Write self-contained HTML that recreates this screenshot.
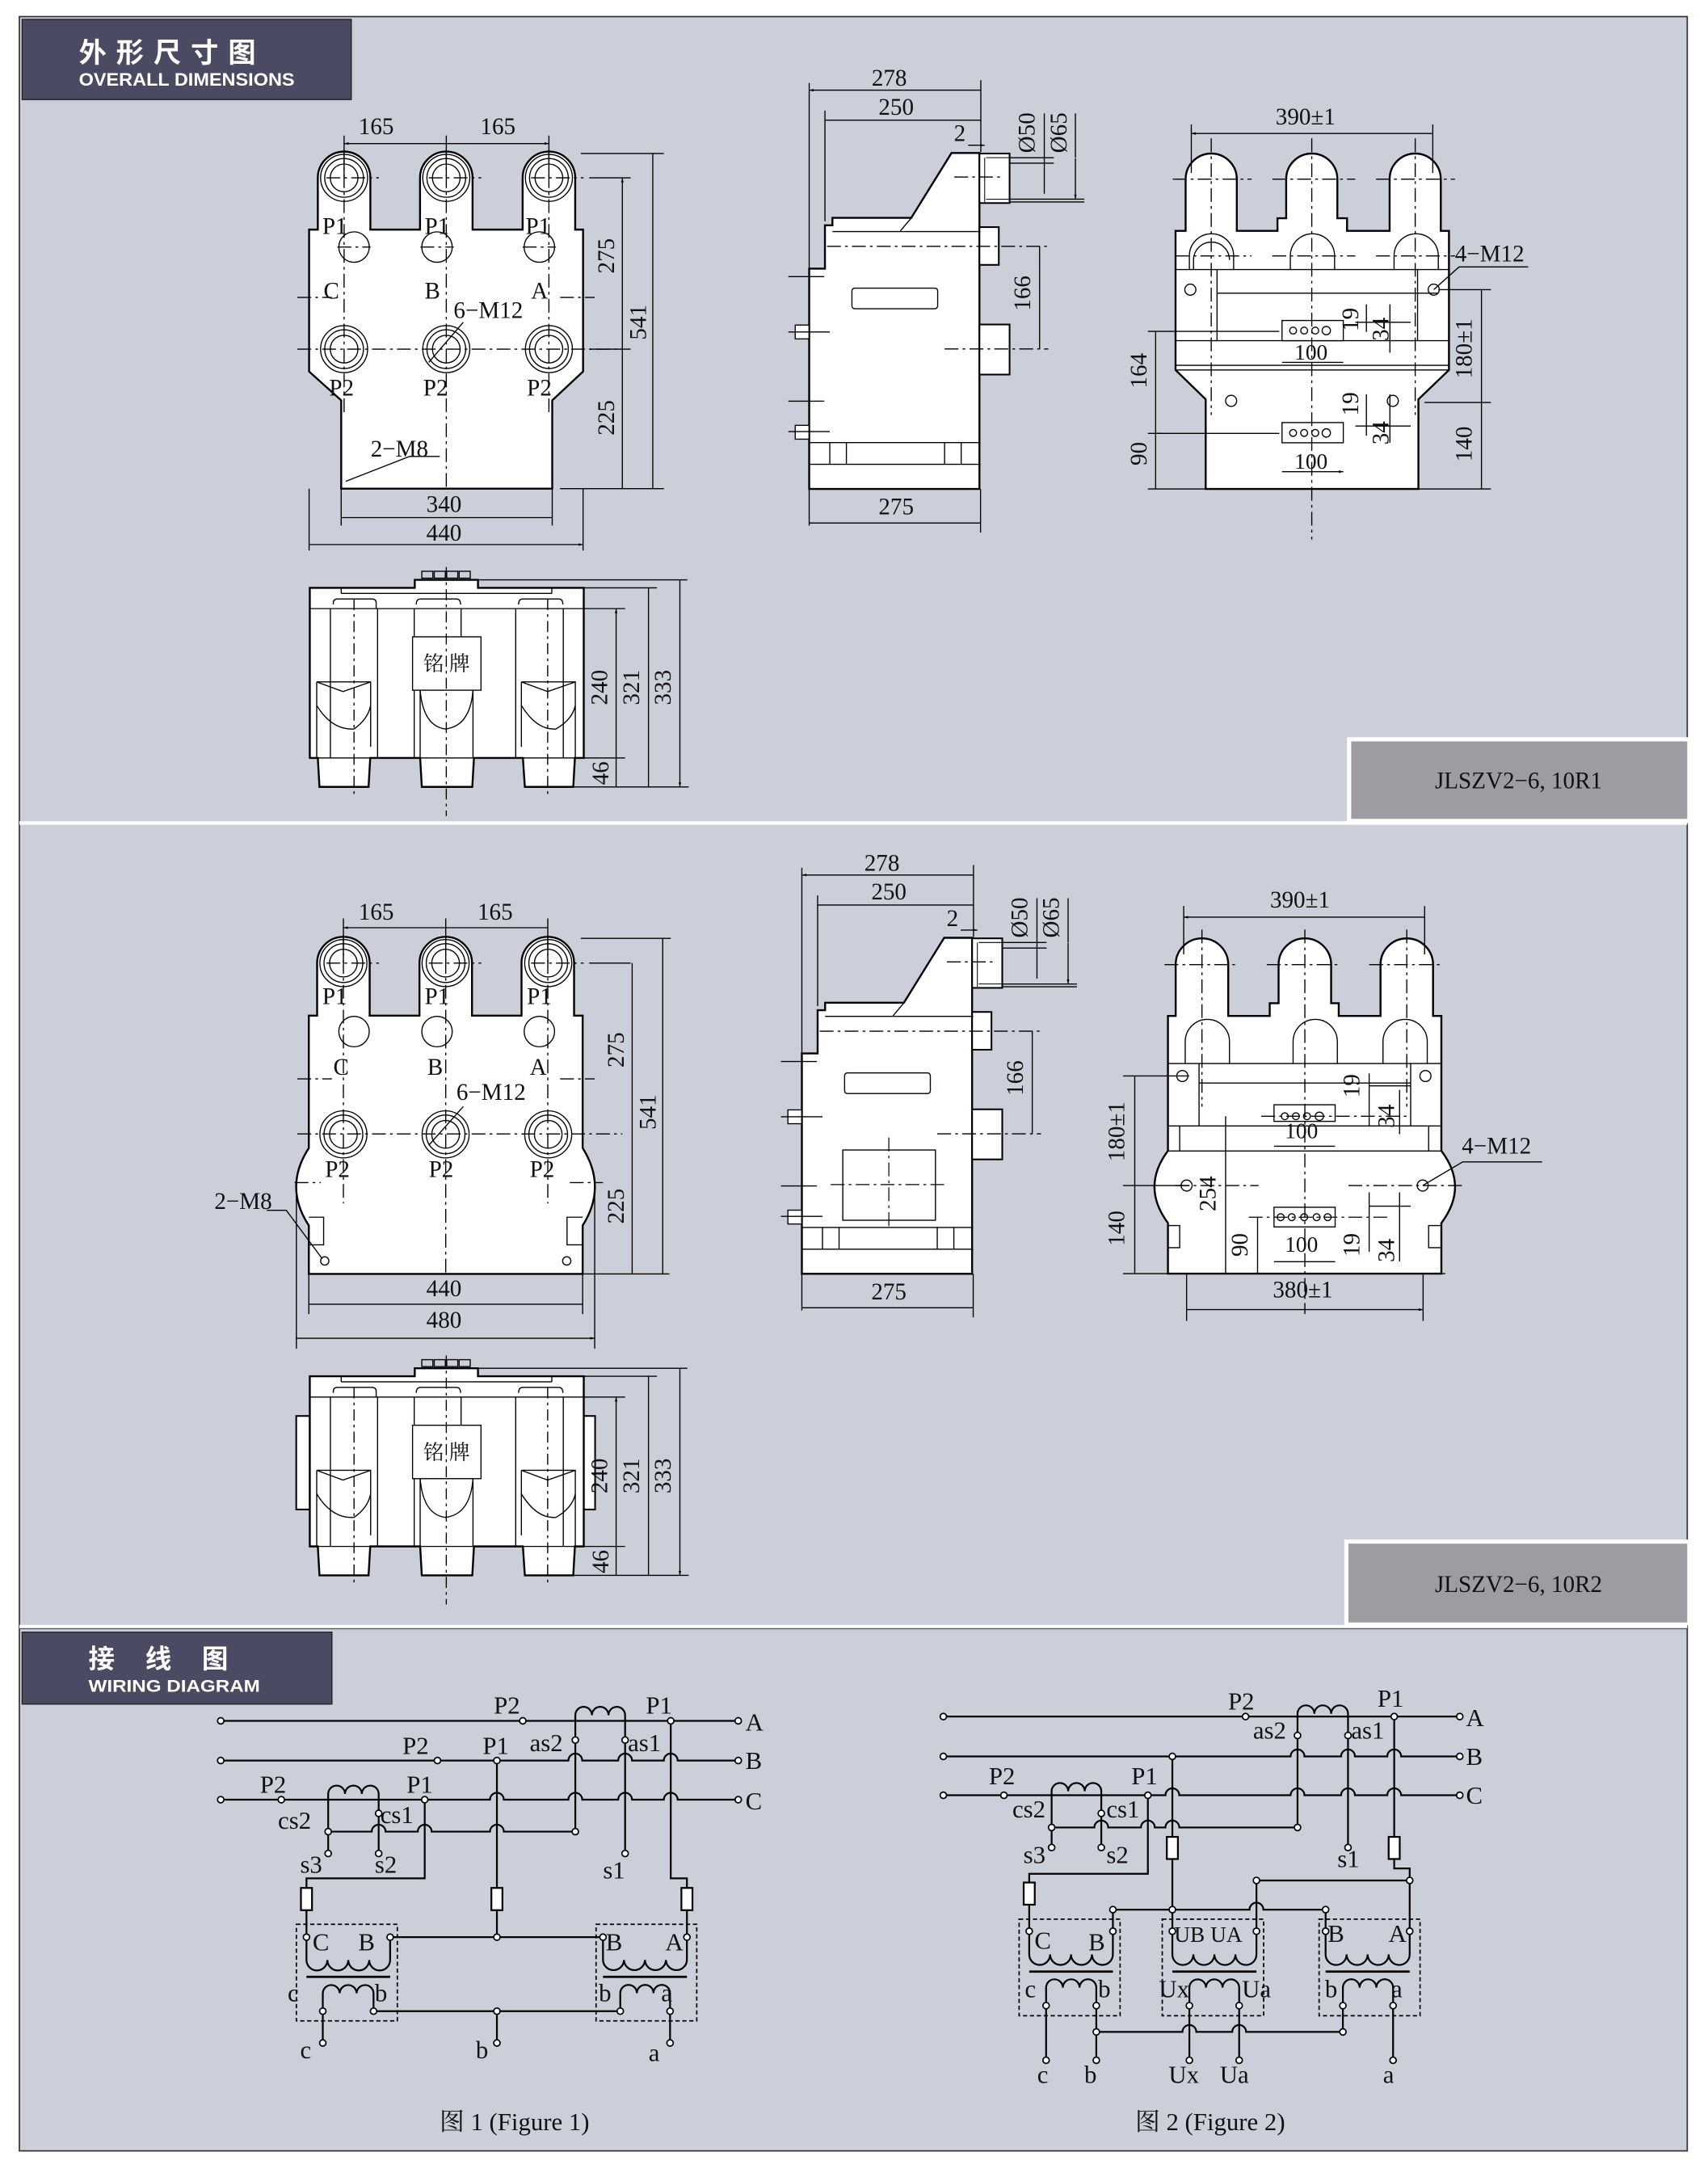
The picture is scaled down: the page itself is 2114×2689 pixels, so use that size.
<!DOCTYPE html>
<html><head><meta charset="utf-8"><style>
html,body{margin:0;padding:0;background:#fff;}
svg{display:block;}
text{font-family:"Liberation Serif","Noto Serif CJK SC",serif;fill:#111;}
</style></head><body>
<svg width="2114" height="2689" viewBox="0 0 1235 1571" preserveAspectRatio="none" xmlns="http://www.w3.org/2000/svg">
<defs>
<marker id="ar" viewBox="0 0 10 10" refX="10" refY="5" markerWidth="6" markerHeight="4" orient="auto-start-reverse"><path d="M0,2 L10,5 L0,8 Z" fill="#000"/></marker>
<g id="tr"><circle r="2.3" fill="#fff" stroke="#000" stroke-width="1"/></g>
</defs>
<rect x="0" y="0" width="1235" height="1571" fill="#fff"/>
<rect x="14" y="12" width="1206" height="1543" fill="#cbcfda" stroke="#333" stroke-width="1"/>
<line x1="14" y1="595" x2="1220" y2="595" stroke="#fff" stroke-width="2.5"/>
<line x1="14" y1="1176" x2="1220" y2="1176" stroke="#fff" stroke-width="2.5"/>
<line x1="14" y1="1177.5" x2="1220" y2="1177.5" stroke="#555" stroke-width="0.8"/>

<!-- titles -->
<rect x="16" y="14" width="238" height="58" fill="#4a4a62" stroke="#222" stroke-width="0.8"/>
<text x="57" y="45" style="font-family:'Liberation Sans','Noto Sans CJK SC',sans-serif;font-weight:bold;fill:#fff;font-size:20px;letter-spacing:7px">外形尺寸图</text>
<text x="57" y="62" style="font-family:'Liberation Sans',sans-serif;font-weight:bold;fill:#fff;font-size:13px" textLength="156" lengthAdjust="spacingAndGlyphs">OVERALL DIMENSIONS</text>
<rect x="16" y="1180" width="224" height="52" fill="#4a4a62" stroke="#222" stroke-width="0.8"/>
<text x="64" y="1206" style="font-family:'Liberation Sans','Noto Sans CJK SC',sans-serif;font-weight:bold;fill:#fff;font-size:19px;letter-spacing:22px">接线图</text>
<text x="64" y="1223" style="font-family:'Liberation Sans',sans-serif;font-weight:bold;fill:#fff;font-size:12.5px" textLength="124" lengthAdjust="spacingAndGlyphs">WIRING DIAGRAM</text>

<rect x="974" y="533" width="247" height="62" fill="#fff"/>
<rect x="977" y="536" width="243" height="56" fill="#9c9da3"/>
<text x="1098" y="570" font-size="17" text-anchor="middle">JLSZV2−6, 10R1</text>
<rect x="972" y="1113" width="249" height="62" fill="#fff"/>
<rect x="975" y="1116" width="245" height="57" fill="#9c9da3"/>
<text x="1098" y="1151" font-size="17" text-anchor="middle">JLSZV2−6, 10R2</text>

<!-- ============ FRONT VIEW 1 ============ -->
<g stroke="#000" fill="none" stroke-width="0.8">
<path d="M223.5,166 H229.8 V128.6 A19,19 0 0 1 267.8,128.6 V166 H303.7 V128.6 A19,19 0 0 1 341.7,128.6 V166 H377.9 V128.6 A19,19 0 0 1 415.9,128.6 V166 H421.6 V268.6 L399.3,289.4 V353.3 H246.7 V289.4 L223.5,268.6 Z" fill="#fff" stroke-width="1.4"/>
<g id="cir3"><circle cx="248.8" cy="128.6" r="17"/><circle cx="248.8" cy="128.6" r="14"/><circle cx="248.8" cy="128.6" r="10"/>
<circle cx="322.7" cy="128.6" r="17"/><circle cx="322.7" cy="128.6" r="14"/><circle cx="322.7" cy="128.6" r="10"/>
<circle cx="396.9" cy="128.6" r="17"/><circle cx="396.9" cy="128.6" r="14"/><circle cx="396.9" cy="128.6" r="10"/></g>
<use href="#cir3" y="123.8"/>
<circle cx="256" cy="178.6" r="11"/><circle cx="316" cy="178.6" r="11"/><circle cx="390" cy="178.6" r="11"/>
<path d="M236,128.6 H274 M310,128.6 H348 M384,128.6 H422 M248.8,108 V300 M322.7,108 V353 M396.9,108 V300 M215,252.4 H450 M244,178.6 H268 M304,178.6 H328 M378,178.6 H402 M215,215 H240 M405,215 H430" stroke-dasharray="10,3,2,3"/>
<path d="M223.5,353.3 V398 M421.6,353.3 V398 M246.7,353.3 V380 M399.3,353.3 V380 M426,128.6 H456 M426,252.4 H456 M405,353.3 H480 M420,111 H480"/>
<path d="M248.8,103.8 H322.7 M322.7,103.8 H396.9" marker-start="url(#ar)" marker-end="url(#ar)"/>
<path d="M248.8,98 V128 M322.7,98 V128 M396.9,98 V128"/>
<path d="M450,128.6 V252.4 M450,252.4 V353.3 M472,111 V353.3 M246.7,374.2 H399.3 M223.5,393.7 H421.6" marker-start="url(#ar)" marker-end="url(#ar)"/>
<path d="M335,233 L310,262 M296,330 H318 M296,330 L250,348"/>
</g>
<g font-size="17">
<text x="272" y="97" text-anchor="middle">165</text><text x="360" y="97" text-anchor="middle">165</text>
<text x="233" y="169">P1</text><text x="307" y="169">P1</text><text x="380" y="169">P1</text>
<text x="234" y="216">C</text><text x="307" y="216">B</text><text x="384" y="216">A</text>
<text x="328" y="230">6−M12</text>
<text x="238" y="286">P2</text><text x="306" y="286">P2</text><text x="381" y="286">P2</text>
<text x="268" y="330">2−M8</text>
<text x="321" y="370" text-anchor="middle">340</text><text x="321" y="391" text-anchor="middle">440</text>
<text transform="translate(444,185) rotate(-90)" text-anchor="middle">275</text>
<text transform="translate(444,302) rotate(-90)" text-anchor="middle">225</text>
<text transform="translate(467,233) rotate(-90)" text-anchor="middle">541</text>
</g>

<!-- ============ BOTTOM VIEW (1 and 2) ============ -->
<g id="bv" stroke="#000" fill="none" stroke-width="0.8">
<path d="M224,425 H299.9 V419.2 H345.6 V425 H422.1 V548 H415.7 L414.5,568.9 H379.5 L378.1,548 H342.7 L341.5,568.9 H305 L303.8,548 H267.7 L266.5,568.9 H231 L229.8,548 H224 Z" fill="#fff" stroke-width="1.4"/>
<path d="M224,440 H422 M246.7,429 H399 M246.7,425 V429 M399,425 V429 M224,548 H422"/>
<path d="M238.9,440 V548 M273,440 V548 M299.5,440 V548 M333.4,440 V460 M372.9,440 V548 M407.3,440 V548 M342,499 V548 M303.8,499 V548"/>
<path d="M241,437 V436 Q241,433 244,433 H269 Q272,433 272,436 V440 M301,437 Q301,433 304,433 H330 Q333,433 333,437 M375,437 Q375,433 378,433 H404 Q407,433 407,437"/>
<rect x="298.3" y="460.4" width="49.5" height="38.6" fill="#fff"/>
<path d="M229,493 L268,493 L268,540 M229,493 V548 M229,510 Q240,528 256,527 Q266,520 268,510 M229,493 L248,500 L268,493"/>
<path d="M303.8,499 Q306,525 322,527 Q340,525 342,499"/>
<path d="M377,493 L416,493 V548 M377,493 V540 M377,510 Q388,528 402,527 Q414,520 416,510 M377,493 L396,500 L416,493"/>
<path d="M256,433 V575 M322.7,410 V590 M396,433 V575" stroke-dasharray="8,3,2,3"/>
<rect x="305" y="413" width="8" height="5"/><rect x="314" y="413" width="8" height="5"/><rect x="323" y="413" width="8" height="5"/><rect x="332" y="413" width="8" height="5"/>
<path d="M345.6,419.2 H497 M422,425 H475 M422,440 H452 M422,548 H452 M415,568.9 H498"/>
<path d="M445.5,440 V548 M445.5,548 V568.9 M468.9,425 V568.9 M491.6,419.2 V568.9" marker-start="url(#ar)" marker-end="url(#ar)"/>
<text x="306" y="485" font-size="15" stroke="none" fill="#111">铭 牌</text>
<g font-size="17" stroke="none" fill="#111">
<text transform="translate(439,497) rotate(-90)" text-anchor="middle">240</text>
<text transform="translate(462,497) rotate(-90)" text-anchor="middle">321</text>
<text transform="translate(485,497) rotate(-90)" text-anchor="middle">333</text>
<text transform="translate(440,559) rotate(-90)" text-anchor="middle">46</text>
</g>
</g>
<g transform="translate(0,570)">
<rect x="214.2" y="453.7" width="9.8" height="67.6" fill="#fff" stroke="#000" stroke-width="1.2"/>
<rect x="421.6" y="453.7" width="8.7" height="67.6" fill="#fff" stroke="#000" stroke-width="1.2"/>
<use href="#bv"/>
</g>

<!-- ============ SIDE VIEW 1 ============ -->
<g id="sv" stroke="#000" fill="none" stroke-width="0.8">
<path d="M585.1,353.5 V194.2 H596.5 V162.9 H601.9 V157.5 H658.9 L688,110.6 H708.2 V353.5 Z" fill="#fff" stroke-width="1.4"/>
<rect x="708.2" y="111" width="21.8" height="35.8" fill="#fff" stroke-width="1.2"/>
<rect x="708.2" y="164.2" width="14" height="27.3" fill="#fff" stroke-width="1.2"/>
<rect x="708.2" y="234.6" width="21.8" height="36.2" fill="#fff" stroke-width="1.2"/>
<path d="M708,114 V146 M712,114 V146 M713,114 H730 M713,144 H730" stroke-width="0.6"/>
<rect x="616" y="208.3" width="62" height="14.9" rx="2"/>
<path d="M601.9,167.4 H709 M585.1,320 H709 M585.1,335.7 H709 M600,320 V335.7 M612,320 V335.7 M683,320 V335.7 M695,320 V335.7 M651,167 L659,157.5"/>
<rect x="575" y="235" width="10" height="10" fill="#fff"/><rect x="575" y="307.5" width="10" height="10" fill="#fff"/>
<path d="M570,240 H600 M570,312 H600 M570,200 H596 M570,290 H596"/>
<path d="M598,178.1 H758 M683,252.3 H758 M690,128 H725" stroke-dasharray="10,3,2,3"/>
<path d="M585.1,60 V380 M596.5,80 V160 M709.2,58 V110 M709,353.5 V385 M730,114 H762 M730,146 H784 M730,118 H762 M730,144 H784 M755.1,82 V118 M777.6,82 V114"/>
<path d="M585.1,65.2 H709.2 M596.5,86.9 H709.2 M751.7,178.1 V252.3 M585.1,378.1 H709.2 M755.1,118.4 V140.1 M777.6,114.4 V143.9" marker-start="url(#ar)" marker-end="url(#ar)"/>
<path d="M700,105 H712" marker-end="url(#ar)"/>
<g font-size="17" stroke="none" fill="#111">
<text x="643" y="62" text-anchor="middle">278</text>
<text x="648" y="83" text-anchor="middle">250</text>
<text x="694" y="102" text-anchor="middle">2</text>
<text transform="translate(748,96) rotate(-90)" text-anchor="middle">Ø50</text>
<text transform="translate(771,96) rotate(-90)" text-anchor="middle">Ø65</text>
<text transform="translate(745,212) rotate(-90)" text-anchor="middle">166</text>
<text x="648" y="372" text-anchor="middle">275</text>
</g>
</g>
<g transform="translate(-5.3,567.4)">
<use href="#sv"/>
<rect x="614.7" y="264" width="67" height="50.8" fill="#fff" stroke="#000" stroke-width="0.8"/>
<path d="M606,289 H690 M648,255 V320" stroke="#000" stroke-width="0.7" stroke-dasharray="10,3,2,3"/>
</g>

<!-- ============ RIGHT VIEW 1 ============ -->
<g stroke="#000" fill="none" stroke-width="0.8">
<path d="M850,166.9 H857.3 V129.5 A18.5,18.5 0 0 1 894.3,129.5 V166.9 H923.7 V157.8 H930 V129.5 A18.5,18.5 0 0 1 967,129.5 V157.8 H974 V166.9 H1004.8 V129.5 A18.5,18.5 0 0 1 1041.8,129.5 V166.9 H1047.7 V267.5 L1025.6,288.7 V353.5 H871.8 V288.7 L850,267.5 Z" fill="#fff" stroke-width="1.4"/>
<path d="M850,194.9 H1047.7 M850,246.3 H1047.7 M850,264.1 H1047.7 M850,267.5 H1047.7 M880,212 H1040 M880,194.9 V246.3 M1025,194.9 V246.3"/>
<path d="M860,194.9 V185 A16,16 0 0 1 892,185 V194.9 M863,194.9 V188 A13,13 0 0 1 889,188 M933,194.9 V185 A16,16 0 0 1 965,185 V194.9 M1008,194.9 V185 A16,16 0 0 1 1040,185 V194.9"/>
<rect x="927" y="231.7" width="44.3" height="14.6" fill="#fff"/>
<rect x="927" y="305.5" width="44.3" height="14.6" fill="#fff"/>
<circle cx="935" cy="239" r="2.5"/><circle cx="943" cy="239" r="2.5"/><circle cx="951" cy="239" r="2.5"/><circle cx="959" cy="239" r="3"/>
<circle cx="935" cy="313" r="2.5"/><circle cx="943" cy="313" r="2.5"/><circle cx="951" cy="313" r="2.5"/><circle cx="959" cy="313" r="3"/>
<circle cx="860.7" cy="209.4" r="4"/><circle cx="1036.7" cy="209.4" r="4"/><circle cx="890.2" cy="289.8" r="4"/><circle cx="1007.1" cy="289.8" r="4"/>
<path d="M875.8,100 V300 M948.5,100 V390 M1023.3,100 V300 M848,129.5 H905 M920,129.5 H980 M995,129.5 H1052 M850,185 H905 M920,185 H980 M995,185 H1052" stroke-dasharray="10,3,2,3"/>
<path d="M861.4,90 V125 M1036,90 V125 M830,239.6 H925 M830,313.3 H925 M1040,209.4 H1078 M1030,291 H1078 M830,353.5 H1078 M980,233 H1020 M980,308 H1020"/>
<path d="M861.4,96.5 H1036 M835.6,239.6 V353.5 M1071.2,209.4 V291 M1071.2,291 V353.5 M927,262 H971.3 M927,341 H971.3" marker-start="url(#ar)" marker-end="url(#ar)"/>
<path d="M835.6,313.3 H840 M988,220 V240 M1005,220 V255 M988,285 V315 M1005,285 V320"/>
<path d="M1036.7,209.4 L1055,193 H1105"/>
<g font-size="17" stroke="none" fill="#111">
<text x="944" y="90" text-anchor="middle">390±1</text>
<text x="1052" y="189">4−M12</text>
<text x="948" y="260" text-anchor="middle" font-size="16">100</text>
<text x="948" y="339" text-anchor="middle" font-size="16">100</text>
<text transform="translate(829,268) rotate(-90)" text-anchor="middle">164</text>
<text transform="translate(829,328) rotate(-90)" text-anchor="middle">90</text>
<text transform="translate(1064,252) rotate(-90)" text-anchor="middle">180±1</text>
<text transform="translate(1064,321) rotate(-90)" text-anchor="middle">140</text>
<text transform="translate(982,231) rotate(-90)" text-anchor="middle">19</text>
<text transform="translate(1004,238) rotate(-90)" text-anchor="middle">34</text>
<text transform="translate(982,292) rotate(-90)" text-anchor="middle">19</text>
<text transform="translate(1004,313) rotate(-90)" text-anchor="middle">34</text>
</g>
</g>

<!-- ============ FRONT VIEW 2 ============ -->
<g stroke="#000" fill="none" stroke-width="0.8">
<path d="M223.3,734.3 H229.3 V696.3 A19,19 0 0 1 267.3,696.3 V734.3 H303.3 V696.3 A19,19 0 0 1 341.3,696.3 V734.3 H377.1 V696.3 A19,19 0 0 1 415.1,696.3 V734.3 H421.3 V830 Q439,858 421.3,886 V921 H223.3 V886 Q205,858 223.3,830 Z" fill="#fff" stroke-width="1.4"/>
<g transform="translate(-0.5,567.7)"><use href="#cir3"/></g>
<g transform="translate(-0.5,691.5)"><use href="#cir3"/></g>
<circle cx="256" cy="745.8" r="11"/><circle cx="316" cy="745.8" r="11"/><circle cx="390" cy="745.8" r="11"/>
<path d="M223.3,880 H234 V900 H223.3 M421.3,880 H410 V900 H421.3"/>
<circle cx="234.8" cy="911.6" r="3"/><circle cx="409.8" cy="911.6" r="3"/>
<path d="M236,696.3 H274 M310,696.3 H348 M384,696.3 H422 M248.3,676 V870 M322.3,676 V921 M396.1,676 V870 M215,819.8 H450 M215,780 H240 M405,780 H430 M213,855 H232 M412,855 H436" stroke-dasharray="10,3,2,3"/>
<path d="M223.3,921 V950 M421.3,921 V950 M214.3,858 V975 M430,858 V975 M426,696.3 H456 M405,921 H484 M420,678.4 H485 M248.3,664 V696 M322.3,664 V696 M396.1,664 V696"/>
<path d="M248.3,670.7 H322.3 M322.3,670.7 H396.1 M457.1,696.3 V819.8 M457.1,819.8 V921 M479.2,678.4 V921 M223.3,942.9 H421.3 M214.3,967.5 H430" marker-start="url(#ar)" marker-end="url(#ar)"/>
<path d="M335,800 L310,828 M193,875 H207 L233,910"/>
</g>
<g font-size="17">
<text x="272" y="665" text-anchor="middle">165</text><text x="358" y="665" text-anchor="middle">165</text>
<text x="233" y="726">P1</text><text x="307" y="726">P1</text><text x="381" y="726">P1</text>
<text x="241" y="777">C</text><text x="309" y="777">B</text><text x="383" y="777">A</text>
<text x="330" y="795">6−M12</text>
<text x="235" y="851">P2</text><text x="310" y="851">P2</text><text x="383" y="851">P2</text>
<text x="155" y="874">2−M8</text>
<text x="321" y="937" text-anchor="middle">440</text><text x="321" y="960" text-anchor="middle">480</text>
<text transform="translate(451,759) rotate(-90)" text-anchor="middle">275</text>
<text transform="translate(451,872) rotate(-90)" text-anchor="middle">225</text>
<text transform="translate(474,804) rotate(-90)" text-anchor="middle">541</text>
</g>

<!-- ============ RIGHT VIEW 2 ============ -->
<g stroke="#000" fill="none" stroke-width="0.8">
<path d="M844.5,734.5 H850.1 V697.4 A19,19 0 0 1 888.1,697.4 V734.5 H918.1 V725.3 H924.5 V697.4 A19,19 0 0 1 962.5,697.4 V725.3 H968 V734.5 H998.2 V697.4 A19,19 0 0 1 1036.2,697.4 V734.5 H1042.2 V832 Q1062,858 1042.2,884.2 V920.8 H844.5 V884.2 Q825,858 844.5,832 Z" fill="#fff" stroke-width="1.4"/>
<path d="M844.5,768.9 H1042.2 M844.5,814 H1042.2 M844.5,832.1 H1042.2 M867,768.9 V814 M1020,768.9 V814 M867,783 H1020 M853,814 V832 M1033,814 V832"/>
<path d="M857,768.9 V753 A16,16 0 0 1 889,753 V768.9 M935,768.9 V753 A16,16 0 0 1 967,753 V768.9 M1000,768.9 V753 A16,16 0 0 1 1032,753 V768.9"/>
<path d="M844.5,886 H853 V902 H844.5 M1042.2,886 H1033 V902 H1042.2"/>
<rect x="921.2" y="798.7" width="44.2" height="12" fill="#fff"/>
<rect x="921.2" y="872.8" width="44.2" height="14.2" fill="#fff"/>
<circle cx="929" cy="807" r="2.5"/><circle cx="937" cy="807" r="2.5"/><circle cx="945" cy="807" r="2.5"/><circle cx="954" cy="807" r="3"/>
<circle cx="926" cy="880" r="2.5"/><circle cx="934" cy="880" r="2.5"/><circle cx="943" cy="880" r="2.5"/><circle cx="952" cy="880" r="2.5"/><circle cx="960" cy="880" r="2.5"/>
<circle cx="854.9" cy="777.9" r="4"/><circle cx="1030.7" cy="777.9" r="4"/><circle cx="858" cy="857.1" r="4"/><circle cx="1028.7" cy="857.1" r="4"/>
<path d="M869.1,672 V800 M943.5,672 V950 M1017.2,672 V800 M842,697.4 H894 M916,697.4 H968 M990,697.4 H1044 M850,857.1 H910 M975,857.1 H1058 M912,807 H1020 M903,880 H1005" stroke-dasharray="10,3,2,3"/>
<path d="M855.9,655 V690 M1030.1,655 V690 M812,777.9 H860 M812,857.1 H860 M812,920.8 H1045 M858,920.8 V955 M1029,920.8 V955 M990,785 H1020 M990,872 H1020"/>
<path d="M855.9,663.1 H1030.1 M820.5,777.9 V857.1 M820.5,857.1 V920.8 M886.2,807 V920.8 M909.3,880 V920.8 M921.2,828.7 H965.4 M921.2,912.2 H965.4 M858,946.8 H1029" marker-start="url(#ar)" marker-end="url(#ar)"/>
<path d="M990,776 V814 M1012,788 V820 M990,862 V905 M1012,862 V912 M1028.7,857.1 L1057.6,840 H1115"/>
<g font-size="17" stroke="none" fill="#111">
<text x="940" y="656" text-anchor="middle">390±1</text>
<text x="1057" y="834">4−M12</text>
<text x="941" y="823" text-anchor="middle" font-size="16">100</text>
<text x="941" y="905" text-anchor="middle" font-size="16">100</text>
<text x="942" y="938" text-anchor="middle">380±1</text>
<text transform="translate(813,818) rotate(-90)" text-anchor="middle">180±1</text>
<text transform="translate(813,888) rotate(-90)" text-anchor="middle">140</text>
<text transform="translate(879,863) rotate(-90)" text-anchor="middle">254</text>
<text transform="translate(902,900) rotate(-90)" text-anchor="middle">90</text>
<text transform="translate(983,785) rotate(-90)" text-anchor="middle">19</text>
<text transform="translate(1008,807) rotate(-90)" text-anchor="middle">34</text>
<text transform="translate(983,900) rotate(-90)" text-anchor="middle">19</text>
<text transform="translate(1008,904) rotate(-90)" text-anchor="middle">34</text>
</g>
</g>

<!-- ============ WIRING FIGURE 1 ============ -->
<g stroke="#000" fill="none" stroke-width="1.3">
<path d="M159.6,1244.1 H533.8"/>
<path d="M159.6,1272.8 H411 a5,5 0 0 1 10,0 H447 a5,5 0 0 1 10,0 H480 a5,5 0 0 1 10,0 H533.8"/>
<path d="M159.6,1301.1 H354.3 a5,5 0 0 1 10,0 H411 a5,5 0 0 1 10,0 H447 a5,5 0 0 1 10,0 H480 a5,5 0 0 1 10,0 H533.8"/>
<path d="M416,1258 V1240 a6,6 0 0 1 12,0 a6,6 0 0 1 12,0 a6,6 0 0 1 12,0 V1258"/>
<path d="M416,1258 V1324.2 M452,1258 V1340"/>
<path d="M237.3,1340 V1297 a6.08,6.08 0 0 1 12.17,0 a6.08,6.08 0 0 1 12.17,0 a6.08,6.08 0 0 1 12.17,0 V1340"/>
<path d="M237.3,1324.2 H268.8 a5,5 0 0 1 10,0 H302.1 a5,5 0 0 1 10,0 H354.3 a5,5 0 0 1 10,0 H416"/>
<path d="M307.1,1301.1 V1358 H221.6 V1400.5"/>
<path d="M359.3,1272.8 V1400.5 M282.1,1400.5 H436"/>
<path d="M485,1244.1 V1358 H496.7 V1400.5"/>
<rect x="217.6" y="1364.9" width="8" height="16.1" fill="#fff"/>
<rect x="355.3" y="1364.9" width="8" height="16.1" fill="#fff"/>
<rect x="492.7" y="1364.9" width="8" height="16.1" fill="#fff"/>
<g stroke-width="1" stroke-dasharray="3,2"><rect x="214.3" y="1391.2" width="73" height="69.8"/><rect x="431" y="1391.2" width="72.8" height="69.8"/></g>
<path d="M221.6,1400.5 V1417 a7.56,7.56 0 0 0 15.12,0 a7.56,7.56 0 0 0 15.12,0 a7.56,7.56 0 0 0 15.12,0 a7.56,7.56 0 0 0 15.12,0 V1400.5"/>
<path d="M436,1400.5 V1417 a7.59,7.59 0 0 0 15.17,0 a7.59,7.59 0 0 0 15.17,0 a7.59,7.59 0 0 0 15.17,0 a7.59,7.59 0 0 0 15.17,0 V1400.5"/>
<path d="M221.6,1429.2 H282.1 M436,1429.2 H496.7" stroke-width="1.6"/>
<path d="M233.4,1454 V1441 a6.12,6.12 0 0 1 12.23,0 a6.12,6.12 0 0 1 12.23,0 a6.12,6.12 0 0 1 12.23,0 V1454"/>
<path d="M448.5,1454 V1441 a6,6 0 0 1 12,0 a6,6 0 0 1 12,0 a6,6 0 0 1 12,0 V1454"/>
<path d="M270.1,1454 H448.5 M359.3,1454 V1477 M233.4,1454 V1477 M484.5,1454 V1477"/>
</g>
<g>
<use href="#tr" x="159.6" y="1244.1"/><use href="#tr" x="378" y="1244.1"/><use href="#tr" x="485" y="1244.1"/><use href="#tr" x="533.8" y="1244.1"/>
<use href="#tr" x="159.6" y="1272.8"/><use href="#tr" x="316.3" y="1272.8"/><use href="#tr" x="359.3" y="1272.8"/><use href="#tr" x="533.8" y="1272.8"/>
<use href="#tr" x="159.6" y="1301.1"/><use href="#tr" x="203.4" y="1301.1"/><use href="#tr" x="307.1" y="1301.1"/><use href="#tr" x="533.8" y="1301.1"/>
<use href="#tr" x="416" y="1258"/><use href="#tr" x="452" y="1258"/><use href="#tr" x="416" y="1324.2"/>
<use href="#tr" x="237.3" y="1324.2"/><use href="#tr" x="273.8" y="1311"/>
<use href="#tr" x="237.3" y="1340"/><use href="#tr" x="273.8" y="1340"/><use href="#tr" x="452" y="1340"/>
<use href="#tr" x="221.6" y="1400.5"/><use href="#tr" x="282.1" y="1400.5"/><use href="#tr" x="359.3" y="1400.5"/><use href="#tr" x="436" y="1400.5"/><use href="#tr" x="496.7" y="1400.5"/>
<use href="#tr" x="233.4" y="1454"/><use href="#tr" x="270.1" y="1454"/><use href="#tr" x="359.3" y="1454"/><use href="#tr" x="448.5" y="1454"/><use href="#tr" x="484.5" y="1454"/>
<use href="#tr" x="233.4" y="1477"/><use href="#tr" x="359.3" y="1477"/><use href="#tr" x="484.5" y="1477"/>
</g>
<g font-size="18">
<text x="357" y="1239">P2</text><text x="467" y="1239">P1</text><text x="539" y="1251">A</text>
<text x="291" y="1268">P2</text><text x="349" y="1268">P1</text><text x="383" y="1266">as2</text><text x="454" y="1266">as1</text><text x="539" y="1279">B</text>
<text x="188" y="1296">P2</text><text x="294" y="1296">P1</text><text x="539" y="1308">C</text>
<text x="201" y="1322">cs2</text><text x="275" y="1318">cs1</text>
<text x="217" y="1354">s3</text><text x="271" y="1354">s2</text><text x="436" y="1358">s1</text>
<text x="226" y="1410">C</text><text x="259" y="1410">B</text><text x="438" y="1410">B</text><text x="481" y="1410">A</text>
<text x="208" y="1447">c</text><text x="271" y="1447">b</text><text x="433" y="1447">b</text><text x="478" y="1447">a</text>
<text x="217" y="1488">c</text><text x="344" y="1488">b</text><text x="469" y="1490">a</text>
<text x="372" y="1540" text-anchor="middle">图 1 (Figure 1)</text>
</g>

<!-- ============ WIRING FIGURE 2 ============ -->
<g stroke="#000" fill="none" stroke-width="1.3">
<path d="M682.1,1241 H1055.5"/>
<path d="M938.2,1254.7 V1239 a6.08,6.08 0 0 1 12.17,0 a6.08,6.08 0 0 1 12.17,0 a6.08,6.08 0 0 1 12.17,0 V1254.7"/>
<path d="M682.1,1269.8 H933.2 a5,5 0 0 1 10,0 H969.7 a5,5 0 0 1 10,0 H1003.1 a5,5 0 0 1 10,0 H1055.5"/>
<path d="M682.1,1297.9 H842.7 a5,5 0 0 1 10,0 H933.2 a5,5 0 0 1 10,0 H969.7 a5,5 0 0 1 10,0 H1003.1 a5,5 0 0 1 10,0 H1055.5"/>
<path d="M760.4,1335.7 V1295 a5.98,5.98 0 0 1 11.97,0 a5.98,5.98 0 0 1 11.97,0 a5.98,5.98 0 0 1 11.97,0 V1335.7"/>
<path d="M760.4,1321.2 H791.3 a5,5 0 0 1 10,0 H825 a5,5 0 0 1 10,0 H842.7 a5,5 0 0 1 10,0 H938.2"/>
<path d="M938.2,1254.7 V1321.2 M974.7,1254.7 V1335.7"/>
<path d="M847.7,1269.8 V1396.2"/>
<path d="M804.7,1396.2 V1380.6 H903.5 a5,5 0 0 1 10,0 H958.5 V1396.2"/>
<path d="M830,1297.9 V1354.7 H744.2 V1396.2"/>
<path d="M1008.1,1241 V1350.8 H1019.3 V1396.2"/>
<path d="M908.5,1396.2 V1359.5 H1019.3"/>
<rect x="843.7" y="1328" width="8" height="16" fill="#fff"/>
<rect x="740.2" y="1361" width="8" height="16" fill="#fff"/>
<rect x="1004.1" y="1328" width="8" height="16" fill="#fff"/>
<g stroke-width="1" stroke-dasharray="3,2"><rect x="736.9" y="1387.5" width="73" height="69.8"/><rect x="840.4" y="1387.5" width="73.3" height="69.8"/><rect x="953.8" y="1387.5" width="73" height="69.8"/></g>
<path d="M744.2,1396.2 V1413 a7.56,7.56 0 0 0 15.12,0 a7.56,7.56 0 0 0 15.12,0 a7.56,7.56 0 0 0 15.12,0 a7.56,7.56 0 0 0 15.12,0 V1396.2"/>
<path d="M847.7,1396.2 V1413 a7.6,7.6 0 0 0 15.2,0 a7.6,7.6 0 0 0 15.2,0 a7.6,7.6 0 0 0 15.2,0 a7.6,7.6 0 0 0 15.2,0 V1396.2"/>
<path d="M958.5,1396.2 V1413 a7.6,7.6 0 0 0 15.2,0 a7.6,7.6 0 0 0 15.2,0 a7.6,7.6 0 0 0 15.2,0 a7.6,7.6 0 0 0 15.2,0 V1396.2"/>
<path d="M744.2,1425.4 H804.7 M847.7,1425.4 H908.5 M958.5,1425.4 H1019.3" stroke-width="1.6"/>
<path d="M756.4,1489.5 V1437 a6.05,6.05 0 0 1 12.1,0 a6.05,6.05 0 0 1 12.1,0 a6.05,6.05 0 0 1 12.1,0 V1489.5"/>
<path d="M860,1489.5 V1437 a6,6 0 0 1 12,0 a6,6 0 0 1 12,0 a6,6 0 0 1 12,0 V1489.5"/>
<path d="M971,1469 V1437 a6.05,6.05 0 0 1 12.1,0 a6.05,6.05 0 0 1 12.1,0 a6.05,6.05 0 0 1 12.1,0 V1489.5"/>
<path d="M792.7,1469 H855 a5,5 0 0 1 10,0 H891 a5,5 0 0 1 10,0 H971"/>
</g>
<g>
<use href="#tr" x="682.1" y="1241"/><use href="#tr" x="900.6" y="1241"/><use href="#tr" x="1008.1" y="1241"/><use href="#tr" x="1055.5" y="1241"/>
<use href="#tr" x="682.1" y="1269.8"/><use href="#tr" x="847.7" y="1269.8"/><use href="#tr" x="1055.5" y="1269.8"/>
<use href="#tr" x="682.1" y="1297.9"/><use href="#tr" x="725.9" y="1297.9"/><use href="#tr" x="830" y="1297.9"/><use href="#tr" x="1055.5" y="1297.9"/>
<use href="#tr" x="938.2" y="1254.7"/><use href="#tr" x="974.7" y="1254.7"/><use href="#tr" x="938.2" y="1321.2"/>
<use href="#tr" x="760.4" y="1321.2"/><use href="#tr" x="796.3" y="1311"/>
<use href="#tr" x="760.4" y="1335.7"/><use href="#tr" x="796.3" y="1335.7"/><use href="#tr" x="974.7" y="1335.7"/>
<use href="#tr" x="908.5" y="1359.5"/><use href="#tr" x="1019.3" y="1359.5"/>
<use href="#tr" x="804.7" y="1380.6"/><use href="#tr" x="847.7" y="1380.6"/><use href="#tr" x="958.5" y="1380.6"/>
<use href="#tr" x="744.2" y="1396.2"/><use href="#tr" x="804.7" y="1396.2"/><use href="#tr" x="847.7" y="1396.2"/><use href="#tr" x="908.5" y="1396.2"/><use href="#tr" x="958.5" y="1396.2"/><use href="#tr" x="1019.3" y="1396.2"/>
<use href="#tr" x="756.4" y="1450"/><use href="#tr" x="792.7" y="1450"/><use href="#tr" x="860" y="1450"/><use href="#tr" x="896" y="1450"/><use href="#tr" x="971" y="1450"/><use href="#tr" x="1007.3" y="1450"/>
<use href="#tr" x="792.7" y="1469"/><use href="#tr" x="971" y="1469"/>
<use href="#tr" x="756.4" y="1489.5"/><use href="#tr" x="792.7" y="1489.5"/><use href="#tr" x="860" y="1489.5"/><use href="#tr" x="896" y="1489.5"/><use href="#tr" x="1007.3" y="1489.5"/>
</g>
<g font-size="18">
<text x="888" y="1236">P2</text><text x="996" y="1234">P1</text><text x="1060" y="1248">A</text>
<text x="906" y="1257">as2</text><text x="977" y="1257">as1</text><text x="1060" y="1276">B</text>
<text x="715" y="1290">P2</text><text x="818" y="1290">P1</text><text x="1060" y="1304">C</text>
<text x="732" y="1314">cs2</text><text x="800" y="1314">cs1</text>
<text x="740" y="1347">s3</text><text x="800" y="1347">s2</text><text x="967" y="1350">s1</text>
<text x="748" y="1409">C</text><text x="787" y="1410">B</text>
<text x="849" y="1404" font-size="16">UB UA</text>
<text x="960" y="1404">B</text><text x="1004" y="1404">A</text>
<text x="741" y="1444">c</text><text x="794" y="1444">b</text>
<text x="838" y="1444">Ux</text><text x="898" y="1444">Ua</text>
<text x="958" y="1444">b</text><text x="1006" y="1444">a</text>
<text x="750" y="1506">c</text><text x="784" y="1506">b</text><text x="845" y="1506">Ux</text><text x="882" y="1506">Ua</text><text x="1000" y="1506">a</text>
<text x="875" y="1540" text-anchor="middle">图 2 (Figure 2)</text>
</g>
</svg>
</body></html>
